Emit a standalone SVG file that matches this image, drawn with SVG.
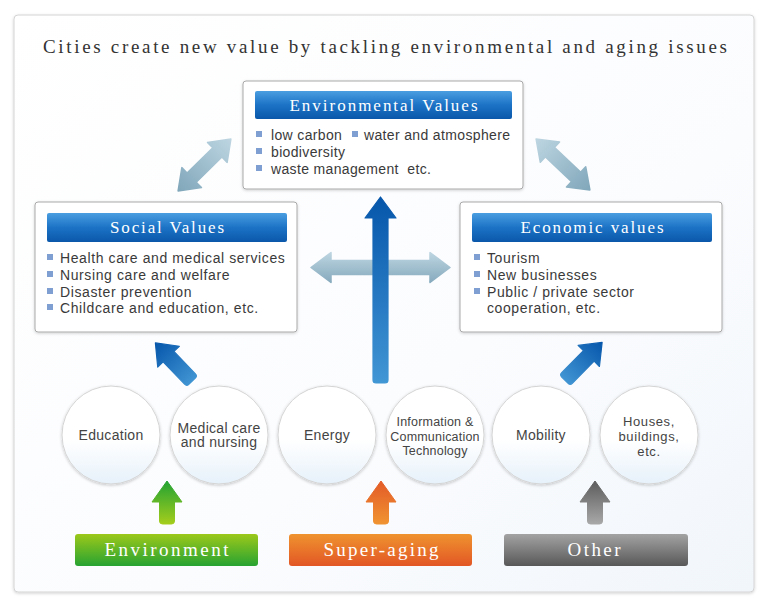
<svg xmlns="http://www.w3.org/2000/svg" width="768" height="607" viewBox="0 0 768 607">
<defs>
<linearGradient id="bg" x1="0" y1="0" x2="1" y2="1"><stop offset="0" stop-color="#ffffff"/><stop offset="0.6" stop-color="#fbfcfe"/><stop offset="1" stop-color="#f1f6fb"/></linearGradient>
<linearGradient id="hdr" x1="0" y1="0" x2="0" y2="1"><stop offset="0" stop-color="#4a9ee0"/><stop offset="0.5" stop-color="#1c73c6"/><stop offset="1" stop-color="#0a57aa"/></linearGradient>
<linearGradient id="circ" x1="0" y1="0" x2="0" y2="1"><stop offset="0" stop-color="#ffffff"/><stop offset="0.55" stop-color="#ffffff"/><stop offset="1" stop-color="#e6f1fa"/></linearGradient>
<linearGradient id="pale" x1="0" y1="0" x2="1" y2="0"><stop offset="0" stop-color="#80a7ba"/><stop offset="1" stop-color="#bdd5e1"/></linearGradient>
<linearGradient id="paleH" x1="0" y1="0" x2="0" y2="1"><stop offset="0" stop-color="#bdd5e1"/><stop offset="1" stop-color="#86aabd"/></linearGradient>
<linearGradient id="blueV" x1="0" y1="0" x2="0" y2="1"><stop offset="0" stop-color="#0656ab"/><stop offset="1" stop-color="#4196d4"/></linearGradient>
<linearGradient id="blueD" x1="0" y1="0" x2="1" y2="0"><stop offset="0" stop-color="#4094d2"/><stop offset="1" stop-color="#0656ab"/></linearGradient>
<linearGradient id="gA" x1="0" y1="0" x2="0" y2="1"><stop offset="0" stop-color="#22a233"/><stop offset="1" stop-color="#a4cd1c"/></linearGradient>
<linearGradient id="gB" x1="0" y1="0" x2="0" y2="1"><stop offset="0" stop-color="#9cc81a"/><stop offset="1" stop-color="#27a332"/></linearGradient>
<linearGradient id="oA" x1="0" y1="0" x2="0" y2="1"><stop offset="0" stop-color="#e35a27"/><stop offset="1" stop-color="#f09331"/></linearGradient>
<linearGradient id="oB" x1="0" y1="0" x2="0" y2="1"><stop offset="0" stop-color="#ef932f"/><stop offset="1" stop-color="#e25625"/></linearGradient>
<linearGradient id="kA" x1="0" y1="0" x2="0" y2="1"><stop offset="0" stop-color="#5c5c5c"/><stop offset="1" stop-color="#a8a8a8"/></linearGradient>
<linearGradient id="kB" x1="0" y1="0" x2="0" y2="1"><stop offset="0" stop-color="#a3a3a3"/><stop offset="1" stop-color="#585858"/></linearGradient>
<filter id="sh" x="-10%" y="-10%" width="120%" height="120%"><feDropShadow dx="0" dy="1" stdDeviation="1.5" flood-color="#000" flood-opacity="0.18"/></filter>
<filter id="csh" x="-20%" y="-20%" width="140%" height="140%"><feDropShadow dx="0" dy="1" stdDeviation="1.6" flood-color="#000" flood-opacity="0.22"/></filter>
</defs>
<style>
.title{font-family:"Liberation Serif","DejaVu Serif",serif;font-size:19px;fill:#333;}
.box{fill:#fff;stroke:#a9a9a9;stroke-width:1;}
.hdrt{font-family:"Liberation Serif","DejaVu Serif",serif;font-size:17px;fill:#fff;text-anchor:middle;}
.item{font-family:"Liberation Sans","Arial",sans-serif;font-size:14px;fill:#3a3a3a;letter-spacing:0.6px;}
.env .item{letter-spacing:0.35px;}
.bul{fill:#7f9fd2;}
.circle{fill:url(#circ);stroke:#d4d4d4;stroke-width:1;filter:url(#csh);}
.ct{font-family:"Liberation Sans","Arial",sans-serif;font-size:14px;fill:#444;text-anchor:middle;letter-spacing:0.3px;}
.ct2{font-family:"Liberation Sans","Arial",sans-serif;font-size:12.5px;fill:#444;text-anchor:middle;letter-spacing:0.2px;}
.ct3{font-family:"Liberation Sans","Arial",sans-serif;font-size:13px;fill:#444;text-anchor:middle;letter-spacing:0.6px;}
.btn{font-family:"Liberation Serif","DejaVu Serif",serif;font-size:19px;fill:#fff;text-anchor:middle;}
</style>
<rect width="768" height="607" fill="#fff"/>
<rect x="14" y="15" width="740" height="577" rx="4" fill="url(#bg)" stroke="#d4d4d4" filter="url(#sh)"/>
<text class="title" x="43" y="53" textLength="684" lengthAdjust="spacing">Cities create new value by tackling environmental and aging issues</text>

<g id="connectors">
<polygon points="311,267.5 331,252.5 331,260.5 430,260.5 430,252.5 450,267.5 430,282.5 430,274.5 331,274.5 331,282.5" fill="url(#paleH)" stroke="url(#paleH)" stroke-width="1.5" stroke-linejoin="round"/>
<polygon transform="translate(204.5,165) rotate(-44.5)" points="-37,0 -18,-14 -18,-6.5 18,-6.5 18,-14 37,0 18,14 18,6.5 -18,6.5 -18,14" fill="url(#pale)" stroke="url(#pale)" stroke-width="1.5" stroke-linejoin="round"/>
<polygon transform="translate(563,164.5) rotate(-136.6)" points="-37,0 -18,-14 -18,-6.5 18,-6.5 18,-14 37,0 18,14 18,6.5 -18,6.5 -18,14" fill="url(#pale)" stroke="url(#pale)" stroke-width="1.5" stroke-linejoin="round"/>
<path d="M380.5,197 L396,218 L388,218 L388,380 Q388,383 385,383 L376,383 Q373,383 373,380 L373,218 L365,218 Z" fill="url(#blueV)" stroke="url(#blueV)" stroke-width="1.2" stroke-linejoin="round"/>
<path transform="translate(190,379) rotate(-133.8)" d="M0,-7.5 L31,-7.5 L31,-15 L50,0 L31,15 L31,7.5 L0,7.5 Q-3,7.5 -3,4.5 L-3,-4.5 Q-3,-7.5 0,-7.5 Z" fill="url(#blueD)" stroke="url(#blueD)" stroke-width="1.2" stroke-linejoin="round"/>
<path transform="translate(567,378) rotate(-45.4)" d="M0,-7.5 L31,-7.5 L31,-15 L50,0 L31,15 L31,7.5 L0,7.5 Q-3,7.5 -3,4.5 L-3,-4.5 Q-3,-7.5 0,-7.5 Z" fill="url(#blueD)" stroke="url(#blueD)" stroke-width="1.2" stroke-linejoin="round"/>
<path d="M167,481 L182,502 L174.5,502 L174.5,521 Q174.5,524 171.5,524 L162.5,524 Q159.5,524 159.5,521 L159.5,502 L152,502 Z" fill="url(#gA)" stroke="url(#gA)" stroke-width="1" stroke-linejoin="round"/>
<path d="M381,481 L396,502 L388.5,502 L388.5,521 Q388.5,524 385.5,524 L376.5,524 Q373.5,524 373.5,521 L373.5,502 L366,502 Z" fill="url(#oA)" stroke="url(#oA)" stroke-width="1" stroke-linejoin="round"/>
<path d="M595,481 L610,502 L602.5,502 L602.5,521 Q602.5,524 599.5,524 L590.5,524 Q587.5,524 587.5,521 L587.5,502 L580,502 Z" fill="url(#kA)" stroke="url(#kA)" stroke-width="1" stroke-linejoin="round"/>
</g>

<g id="environmental-values" class="env">
<rect class="box" x="243" y="81" width="280" height="108" rx="3" filter="url(#sh)"/>
<rect x="255" y="91" width="257" height="28" rx="2" fill="url(#hdr)"/>
<text class="hdrt" x="383.5" y="111" textLength="188" lengthAdjust="spacing">Environmental Values</text>
<rect class="bul" x="256" y="131" width="6" height="6"/><text class="item" x="271" y="140">low carbon</text>
<rect class="bul" x="352" y="131" width="6" height="6"/><text class="item" x="364" y="140">water and atmosphere</text>
<rect class="bul" x="256" y="148" width="6" height="6"/><text class="item" x="271" y="157">biodiversity</text>
<rect class="bul" x="256" y="165" width="6" height="6"/><text class="item" x="271" y="174" xml:space="preserve">waste management  etc.</text>
</g>

<g id="social-values">
<rect class="box" x="35" y="202" width="262" height="130" rx="3" filter="url(#sh)"/>
<rect x="47" y="213" width="240" height="29" rx="2" fill="url(#hdr)"/>
<text class="hdrt" x="167" y="233" textLength="114" lengthAdjust="spacing">Social Values</text>
<rect class="bul" x="47" y="254" width="6" height="6"/><text class="item" x="60" y="263">Health care and medical services</text>
<rect class="bul" x="47" y="271" width="6" height="6"/><text class="item" x="60" y="280">Nursing care and welfare</text>
<rect class="bul" x="47" y="288" width="6" height="6"/><text class="item" x="60" y="297">Disaster prevention</text>
<rect class="bul" x="47" y="304" width="6" height="6"/><text class="item" x="60" y="313">Childcare and education, etc.</text>
</g>

<g id="economic-values">
<rect class="box" x="460" y="202" width="262" height="130" rx="3" filter="url(#sh)"/>
<rect x="472" y="213" width="240" height="29" rx="2" fill="url(#hdr)"/>
<text class="hdrt" x="592" y="233" textLength="143" lengthAdjust="spacing">Economic values</text>
<rect class="bul" x="474" y="254" width="6" height="6"/><text class="item" x="487" y="263">Tourism</text>
<rect class="bul" x="474" y="271" width="6" height="6"/><text class="item" x="487" y="280">New businesses</text>
<rect class="bul" x="474" y="288" width="6" height="6"/><text class="item" x="487" y="297">Public / private sector</text>
<text class="item" x="487" y="313">cooperation, etc.</text>
</g>

<g id="education"><circle class="circle" cx="111" cy="435" r="49"/><text class="ct" x="111" y="440">Education</text></g>
<g id="medical"><circle class="circle" cx="219" cy="435" r="49"/><text class="ct" x="219" y="432.5">Medical care</text><text class="ct" x="219" y="447">and nursing</text></g>
<g id="energy"><circle class="circle" cx="327" cy="435" r="49"/><text class="ct" x="327" y="440">Energy</text></g>
<g id="ict"><circle class="circle" cx="435" cy="435" r="49"/><text class="ct2" x="435" y="426">Information &amp;</text><text class="ct2" x="435" y="441">Communication</text><text class="ct2" x="435" y="455">Technology</text></g>
<g id="mobility"><circle class="circle" cx="541" cy="435" r="49"/><text class="ct" x="541" y="440">Mobility</text></g>
<g id="houses"><circle class="circle" cx="649" cy="435" r="49"/><text class="ct3" x="649" y="426">Houses,</text><text class="ct3" x="649" y="441">buildings,</text><text class="ct3" x="649" y="456">etc.</text></g>

<g id="environment"><rect x="75" y="534" width="183" height="32" rx="3" fill="url(#gB)"/><text class="btn" x="166.5" y="556" textLength="124" lengthAdjust="spacing">Environment</text></g>
<g id="super-aging"><rect x="289" y="534" width="183" height="32" rx="3" fill="url(#oB)"/><text class="btn" x="381" y="556" textLength="115" lengthAdjust="spacing">Super-aging</text></g>
<g id="other"><rect x="504" y="534" width="184" height="32" rx="3" fill="url(#kB)"/><text class="btn" x="594" y="556" textLength="53" lengthAdjust="spacing">Other</text></g>
</svg>
